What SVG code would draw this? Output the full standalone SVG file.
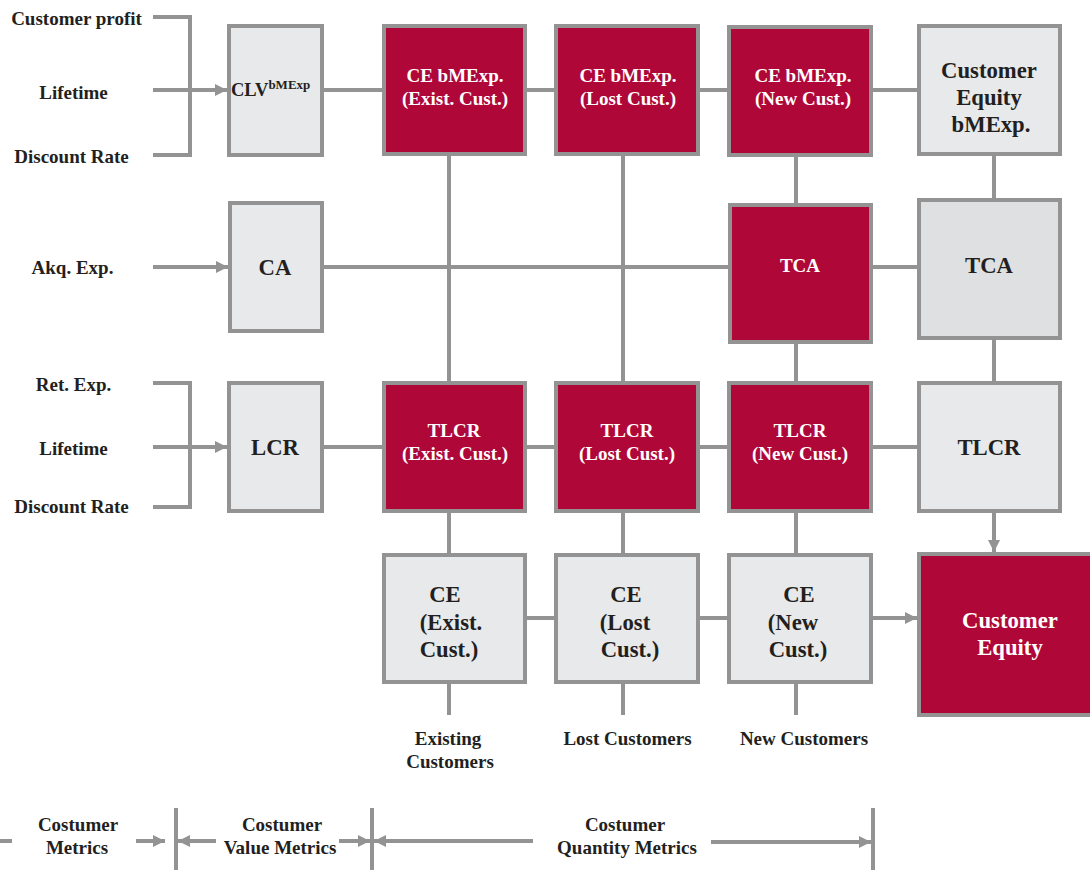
<svg xmlns="http://www.w3.org/2000/svg" width="1090" height="871" viewBox="0 0 1090 871">
<style>
text{font-family:"Liberation Serif","Times New Roman",serif;font-weight:bold;text-anchor:middle;fill:#231f20}
.s{font-size:19px}
.b{font-size:22.7px}
.w{fill:#ffffff}
.box{stroke:#939393;stroke-width:4}
.red{fill:#b00739}
.lt{fill:#e8e9eb}
.dk{fill:#dfe0e2}
.c{stroke:#939393;stroke-width:4;fill:none}
</style>
<defs>
<marker id="ah" markerUnits="userSpaceOnUse" markerWidth="12" markerHeight="12" refX="12" refY="6" orient="auto">
<path d="M0,0 L12,6 L0,12 z" fill="#939393"/>
</marker>
</defs>
<rect width="1090" height="871" fill="#ffffff"/>
<g id="connectors" class="c">
<path d="M153,17 H190 V155 H153"/>
<line x1="153" y1="90" x2="227" y2="90" marker-end="url(#ah)"/>
<path d="M153,383 H190 V507 H153"/>
<line x1="153" y1="447" x2="227" y2="447" marker-end="url(#ah)"/>
<line x1="153" y1="267" x2="228" y2="267" marker-end="url(#ah)"/>
<line x1="324" y1="90" x2="382" y2="90"/>
<line x1="527" y1="90" x2="554" y2="90"/>
<line x1="700" y1="90" x2="727" y2="90"/>
<line x1="873" y1="90" x2="917" y2="90"/>
<line x1="449" y1="156" x2="449" y2="381"/>
<line x1="623" y1="156" x2="623" y2="381"/>
<line x1="796" y1="157" x2="796" y2="203"/>
<line x1="796" y1="344" x2="796" y2="381"/>
<line x1="994" y1="156" x2="994" y2="198"/>
<line x1="994" y1="340" x2="994" y2="381"/>
<line x1="994" y1="513" x2="994" y2="552" marker-end="url(#ah)"/>
<line x1="324" y1="267" x2="728" y2="267"/>
<line x1="873" y1="267" x2="917" y2="267"/>
<line x1="324" y1="447" x2="382" y2="447"/>
<line x1="527" y1="447" x2="554" y2="447"/>
<line x1="700" y1="447" x2="727" y2="447"/>
<line x1="873" y1="447" x2="917" y2="447"/>
<line x1="449" y1="513" x2="449" y2="553"/>
<line x1="623" y1="513" x2="623" y2="553"/>
<line x1="796" y1="513" x2="796" y2="553"/>
<line x1="449" y1="684" x2="449" y2="715"/>
<line x1="623" y1="684" x2="623" y2="715"/>
<line x1="796" y1="684" x2="796" y2="715"/>
<line x1="527" y1="618" x2="554" y2="618"/>
<line x1="700" y1="618" x2="727" y2="618"/>
<line x1="873" y1="618" x2="917" y2="618" marker-end="url(#ah)"/>
</g>
<g id="legend">
<g class="c">
<line x1="0" y1="841" x2="12" y2="841"/>
<line x1="136" y1="841" x2="165" y2="841" marker-end="url(#ah)"/>
<line x1="176" y1="808" x2="176" y2="870"/>
<line x1="216" y1="841" x2="178" y2="841" marker-end="url(#ah)"/>
<line x1="339" y1="841" x2="370" y2="841" marker-end="url(#ah)"/>
<line x1="372" y1="808" x2="372" y2="870"/>
<line x1="533" y1="841" x2="374" y2="841" marker-end="url(#ah)"/>
<line x1="711" y1="842" x2="871" y2="842" marker-end="url(#ah)"/>
<line x1="873" y1="808" x2="873" y2="870"/>
</g>
<text class="s" x="78" y="831">Costumer</text>
<text class="s" x="77" y="854">Metrics</text>
<text class="s" x="282" y="831">Costumer</text>
<text class="s" x="280" y="854">Value Metrics</text>
<text class="s" x="625" y="831">Costumer</text>
<text class="s" x="627" y="854">Quantity Metrics</text>
</g>
<g id="inputs">
<text class="s" x="76.5" y="25">Customer profit</text>
<text class="s" x="73.5" y="99">Lifetime</text>
<text class="s" x="71.5" y="163">Discount Rate</text>
<text class="s" x="72.5" y="274">Akq. Exp.</text>
<text class="s" x="73.5" y="391">Ret. Exp.</text>
<text class="s" x="73.5" y="455">Lifetime</text>
<text class="s" x="71.5" y="513">Discount Rate</text>
</g>
<g id="clv">
<rect class="box lt" x="229" y="26" width="93" height="129"/>
<text x="231" y="96" style="text-anchor:start;font-size:18.5px">CLV<tspan dy="-7" style="font-size:13px">bMExp</tspan></text>
</g>
<g id="ce-bmexp-exist">
<rect class="box red" x="384" y="26" width="141" height="128"/>
<text class="s w" x="455" y="82">CE bMExp.</text>
<text class="s w" x="455" y="105">(Exist. Cust.)</text>
</g>
<g id="ce-bmexp-lost">
<rect class="box red" x="556" y="26" width="142" height="128"/>
<text class="s w" x="628" y="82">CE bMExp.</text>
<text class="s w" x="628" y="105">(Lost Cust.)</text>
</g>
<g id="ce-bmexp-new">
<rect class="box red" x="729" y="27" width="142" height="128"/>
<text class="s w" x="803" y="82">CE bMExp.</text>
<text class="s w" x="803" y="105">(New Cust.)</text>
</g>
<g id="customer-equity-bmexp">
<rect class="box lt" x="919" y="26" width="141" height="128"/>
<text class="b" x="989" y="78">Customer</text>
<text class="b" x="989" y="105">Equity</text>
<text class="b" x="991" y="132">bMExp.</text>
</g>
<g id="ca">
<rect class="box lt" x="230" y="203" width="92" height="128"/>
<text class="b" x="275" y="275">CA</text>
</g>
<g id="tca-red">
<rect class="box red" x="730" y="205" width="141" height="137"/>
<text class="s w" x="800" y="272">TCA</text>
</g>
<g id="tca">
<rect class="box dk" x="919" y="200" width="141" height="138"/>
<text class="b" x="989" y="273">TCA</text>
</g>
<g id="lcr">
<rect class="box lt" x="229" y="383" width="93" height="128"/>
<text class="b" x="275" y="455">LCR</text>
</g>
<g id="tlcr-exist">
<rect class="box red" x="384" y="383" width="141" height="128"/>
<text class="s w" x="454" y="437">TLCR</text>
<text class="s w" x="455" y="460">(Exist. Cust.)</text>
</g>
<g id="tlcr-lost">
<rect class="box red" x="556" y="383" width="142" height="128"/>
<text class="s w" x="627" y="437">TLCR</text>
<text class="s w" x="627" y="460">(Lost Cust.)</text>
</g>
<g id="tlcr-new">
<rect class="box red" x="729" y="383" width="142" height="128"/>
<text class="s w" x="800" y="437">TLCR</text>
<text class="s w" x="800" y="460">(New Cust.)</text>
</g>
<g id="tlcr">
<rect class="box lt" x="919" y="383" width="141" height="128"/>
<text class="b" x="989" y="455">TLCR</text>
</g>
<g id="ce-exist">
<rect class="box lt" x="384" y="555" width="141" height="127"/>
<text class="b" x="445" y="602">CE</text>
<text class="b" x="451" y="630">(Exist.</text>
<text class="b" x="449" y="657">Cust.)</text>
</g>
<g id="ce-lost">
<rect class="box lt" x="556" y="555" width="142" height="127"/>
<text class="b" x="626" y="602">CE</text>
<text class="b" x="625" y="630">(Lost</text>
<text class="b" x="630" y="657">Cust.)</text>
</g>
<g id="ce-new">
<rect class="box lt" x="729" y="555" width="142" height="127"/>
<text class="b" x="799" y="602">CE</text>
<text class="b" x="793" y="630">(New</text>
<text class="b" x="798" y="657">Cust.)</text>
</g>
<g id="customer-equity">
<rect class="box red" x="919" y="554" width="175" height="161"/>
<text class="b w" x="1010" y="628">Customer</text>
<text class="b w" x="1010" y="655">Equity</text>
</g>
<g id="segment-labels">
<text class="s" x="448" y="745">Existing</text>
<text class="s" x="450" y="768">Customers</text>
<text class="s" x="627.5" y="745">Lost Customers</text>
<text class="s" x="804" y="745">New Customers</text>
</g>
</svg>
